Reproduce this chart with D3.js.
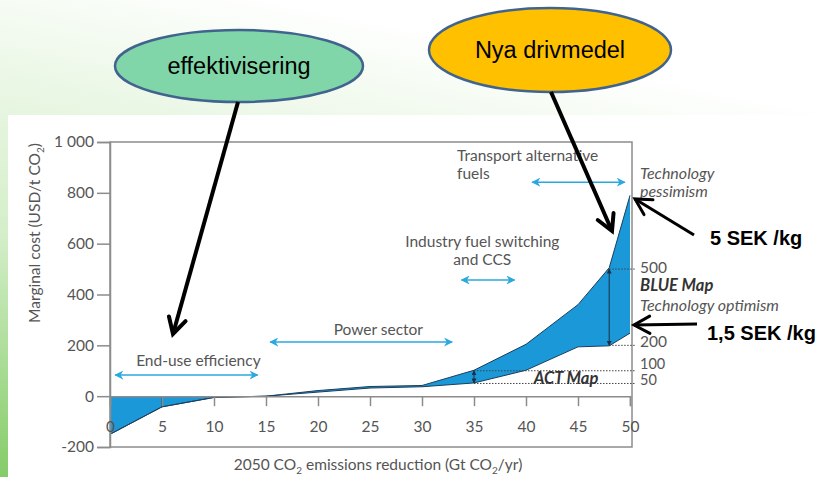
<!DOCTYPE html>
<html>
<head>
<meta charset="utf-8">
<script src="https://d3js.org/d3.v7.min.js"></script>
<style>
  body { margin: 0; background: #fff; }
  .gray { font-family: Lato, "Open Sans", sans-serif; fill: #555; }
</style>
</head>
<body>
<script>
// reduction (Gt CO2/yr) and marginal cost (USD/t CO2)
var reduction = [0, 5, 10, 15, 20, 25, 30, 35, 40, 45, 48, 50];
var costHigh  = [-150, -42, -5, 0, 22, 38, 42, 102, 204, 360, 505, 790];   // technology pessimism
var costLow   = [-150, -42, -5, 0, 16, 32, 37, 52, 102, 194, 198, 248];    // technology optimism
var xTicks = [0, 5, 10, 15, 20, 25, 30, 35, 40, 45, 50];
var yTicks = [-200, 0, 200, 400, 600, 800, 1000];
var sectors = [
  {name: ["End-use efficiency"], from: 0.5, to: 14.2, at: 83},
  {name: ["Power sector"], from: 15.4, to: 32.9, at: 213},
  {name: ["Industry fuel switching", "and CCS"], from: 33.8, to: 38.9, at: 457},
  {name: ["Transport alternative", "fuels"], from: 40.6, to: 49.5, at: 842}
];

var W = 825, H = 477;
var svg = d3.select("body").append("svg").attr("width", W).attr("height", H);

// slide background
var defs = svg.append("defs");
var grad = defs.append("linearGradient").attr("id", "bg")
  .attr("x1", 0).attr("y1", 1).attr("x2", 0.35).attr("y2", 0);
grad.append("stop").attr("offset", 0).attr("stop-color", "#84cc68");
grad.append("stop").attr("offset", 0.45).attr("stop-color", "#d3eec8");
grad.append("stop").attr("offset", 1).attr("stop-color", "#ffffff");
svg.append("rect").attr("width", W).attr("height", H).attr("fill", "url(#bg)");
svg.append("rect").attr("x", 8).attr("y", 115).attr("width", W - 8).attr("height", H - 115).attr("fill", "#fff");

var x = d3.scaleLinear().domain([0, 50]).range([110, 630]);
var y = d3.scaleLinear().domain([-200, 1000]).range([447, 142]);

var data = reduction.map(function(r, i) { return {r: r, hi: costHigh[i], lo: costLow[i]}; });

var axisCol = "#8c8c8c";
// frame
svg.append("rect").attr("x", x(0)).attr("y", y(1000))
  .attr("width", 632 - x(0)).attr("height", y(-200) - y(1000))
  .attr("fill", "none").attr("stroke", axisCol).attr("stroke-width", 1.5);

// filled band
var area = d3.area()
  .x(function(d) { return x(d.r); })
  .y0(function(d) { return y(d.lo < 0 ? 0 : d.lo); })
  .y1(function(d) { return y(d.hi); });
svg.append("path").datum(data).attr("d", area).attr("fill", "#1a98d8");

var line = d3.line().x(function(d) { return x(d.r); });
svg.append("path").datum(data).attr("d", line.y(function(d) { return y(d.hi); }))
  .attr("fill", "none").attr("stroke", "#1b3f5e").attr("stroke-width", 1);
svg.append("path").datum(data).attr("d", line.y(function(d) { return y(d.lo); }))
  .attr("fill", "none").attr("stroke", "#1b3f5e").attr("stroke-width", 1);
// divider at 5
svg.append("line").attr("x1", x(5)).attr("x2", x(5)).attr("y1", y(0)).attr("y2", y(costHigh[1]))
  .attr("stroke", "#1b3f5e").attr("stroke-width", 1);

// y axis
var yAxis = svg.append("g").attr("transform", "translate(" + x(0) + ",0)")
  .call(d3.axisLeft(y).tickValues(yTicks).tickSize(13).tickPadding(3)
    .tickFormat(function(d) { return d === 1000 ? "1 000" : d; }));
yAxis.select(".domain").attr("stroke", axisCol).attr("stroke-width", 1.5);
yAxis.selectAll(".tick line").attr("stroke", axisCol).attr("stroke-width", 1.5);
yAxis.selectAll("text").attr("class", "gray").style("font-size", "15.5px");

// x axis along zero
var xAxis = svg.append("g").attr("transform", "translate(0," + y(0) + ")")
  .call(d3.axisBottom(x).tickValues(xTicks).tickSize(10).tickPadding(15));
xAxis.select(".domain").attr("stroke", axisCol).attr("stroke-width", 1.5);
xAxis.selectAll(".tick line").attr("stroke", axisCol).attr("stroke-width", 1.5);
xAxis.selectAll("text").attr("class", "gray").style("font-size", "15.5px");

// axis titles
var xt = svg.append("text").attr("class", "gray").attr("x", 378).attr("y", 470)
  .attr("text-anchor", "middle").style("font-size", "15.5px");
xt.append("tspan").text("2050 CO");
xt.append("tspan").text("2").attr("dy", 4).style("font-size", "10px");
xt.append("tspan").text(" emissions reduction (Gt CO").attr("dy", -4);
xt.append("tspan").text("2").attr("dy", 4).style("font-size", "10px");
xt.append("tspan").text("/yr)").attr("dy", -4);

var yt = svg.append("text").attr("class", "gray")
  .attr("transform", "translate(40,233) rotate(-90)")
  .attr("text-anchor", "middle").style("font-size", "15.5px");
yt.append("tspan").text("Marginal cost (USD/t CO");
yt.append("tspan").text("2").attr("dy", 4).style("font-size", "10px");
yt.append("tspan").text(")").attr("dy", -4);

// sector double arrows
var cyan = "#2aa8e0";
defs.append("marker").attr("id", "cyanHead").attr("viewBox", "0 0 10 10")
  .attr("refX", 9).attr("refY", 5).attr("markerWidth", 9).attr("markerHeight", 9)
  .attr("markerUnits", "userSpaceOnUse").attr("orient", "auto-start-reverse")
  .append("path").attr("d", "M0,0L10,5L0,10L3,5Z").attr("fill", cyan);
sectors.forEach(function(s) {
  svg.append("line").attr("x1", x(s.from)).attr("x2", x(s.to))
    .attr("y1", y(s.at)).attr("y2", y(s.at))
    .attr("stroke", cyan).attr("stroke-width", 1.5)
    .attr("marker-start", "url(#cyanHead)").attr("marker-end", "url(#cyanHead)");
});
function label(txt, px, py, anchor, style) {
  var t = svg.append("text").attr("class", "gray").attr("x", px).attr("y", py)
    .attr("text-anchor", anchor || "start").attr("dominant-baseline", "central")
    .style("font-size", "15.5px").text(txt);
  if (style) t.style("font-style", style.fs || null).style("font-weight", style.fw || null)
    .style("fill", style.fill || null).style("font-size", style.size || "15.5px");
  return t;
}
label("End-use efficiency", x(8.5), 360, "middle");
label("Power sector", x(25.8), 329, "middle");
label("Industry fuel switching", x(35.8), 241, "middle");
label("and CCS", x(35.8), 259, "middle");
label("Transport alternative", 457, 155);
label("fuels", 457, 173);

// scenario markers
var dark = "#1b2f45";
defs.append("marker").attr("id", "darkHead").attr("viewBox", "0 0 10 10")
  .attr("refX", 9).attr("refY", 5).attr("markerWidth", 5).attr("markerHeight", 5)
  .attr("markerUnits", "userSpaceOnUse").attr("orient", "auto-start-reverse")
  .append("path").attr("d", "M0,0L10,5L0,10Z").attr("fill", dark);
function dotted(from, v) {
  svg.append("line").attr("x1", x(from)).attr("x2", 636).attr("y1", y(v)).attr("y2", y(v))
    .attr("stroke", "#444").attr("stroke-width", 1).attr("stroke-dasharray", "1.5,1.5");
}
dotted(35, 100); dotted(35, 50); dotted(48, 500); dotted(48, 200);
svg.append("line").attr("x1", x(35)).attr("x2", x(35)).attr("y1", y(52)).attr("y2", y(100))
  .attr("stroke", dark).attr("stroke-width", 1)
  .attr("marker-start", "url(#darkHead)").attr("marker-end", "url(#darkHead)");
svg.append("line").attr("x1", x(48)).attr("x2", x(48)).attr("y1", y(200)).attr("y2", y(500))
  .attr("stroke", dark).attr("stroke-width", 1)
  .attr("marker-start", "url(#darkHead)").attr("marker-end", "url(#darkHead)");

label("ACT Map", 566, 378, "middle", {fs: "italic", fw: "bold", fill: "#333", size: "16.5px"});
label("Technology", 640, 172, "start", {fs: "italic", size: "16px"});
label("pessimism", 640, 190, "start", {fs: "italic", size: "16px"});
label("500", 640, 267);
label("BLUE Map", 640, 285, "start", {fs: "italic", fw: "bold", fill: "#333", size: "16.5px"});
label("Technology optimism", 640, 304, "start", {fs: "italic", size: "16px"});
label("200", 640, 341);
label("100", 640, 363, "start", {size: "14.5px"});
label("50", 640, 379, "start", {size: "14.5px"});

// slide overlay: bubbles and black arrows
function bubble(cx, cy, rx, ry, fill, txt, size) {
  svg.append("ellipse").attr("cx", cx).attr("cy", cy).attr("rx", rx).attr("ry", ry)
    .attr("fill", fill).attr("stroke", "#41648f").attr("stroke-width", 2.5);
  svg.append("text").attr("x", cx).attr("y", cy).attr("text-anchor", "middle")
    .attr("dominant-baseline", "central")
    .style("font-family", "'Liberation Sans', Arial, sans-serif").style("font-size", size)
    .style("fill", "#000").text(txt);
}
bubble(239, 66, 124, 36, "#80d6a8", "effektivisering", "23.5px");
bubble(550, 50, 121, 42, "#ffc000", "Nya drivmedel", "23.5px");

function blackArrow(x1, y1, x2, y2, w) {
  svg.append("line").attr("x1", x1).attr("y1", y1).attr("x2", x2).attr("y2", y2)
    .attr("stroke", "#000").attr("stroke-width", w);
  var a = Math.atan2(y2 - y1, x2 - x1), L = 18, s = 0.5;
  svg.append("path")
    .attr("d", "M" + (x2 - L * Math.cos(a - s)) + "," + (y2 - L * Math.sin(a - s)) +
      "L" + x2 + "," + y2 +
      "L" + (x2 - L * Math.cos(a + s)) + "," + (y2 - L * Math.sin(a + s)))
    .attr("fill", "none").attr("stroke", "#000").attr("stroke-width", w)
    .attr("stroke-linecap", "round").attr("stroke-linejoin", "miter");
}
blackArrow(238, 102, 173, 334, 4);
blackArrow(551, 92, 612, 231, 4);
blackArrow(694, 235, 635, 199, 3);
blackArrow(697, 324, 634, 325, 3);

svg.append("text").attr("x", 710).attr("y", 238).attr("dominant-baseline", "central")
  .style("font-family", "'Liberation Sans', Arial, sans-serif").style("font-weight", "bold")
  .style("font-size", "20px").text("5 SEK /kg");
svg.append("text").attr("x", 707).attr("y", 333).attr("dominant-baseline", "central")
  .style("font-family", "'Liberation Sans', Arial, sans-serif").style("font-weight", "bold")
  .style("font-size", "20px").text("1,5 SEK /kg");
</script>
</body>
</html>
